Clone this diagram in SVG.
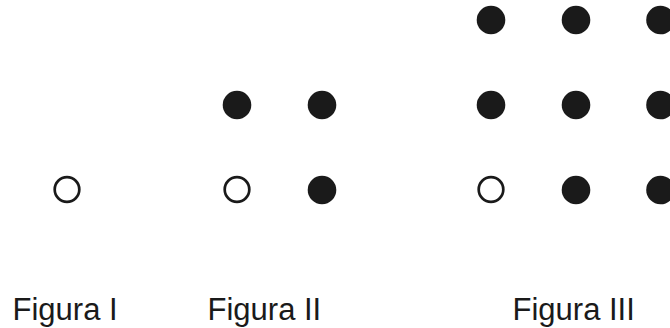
<svg xmlns="http://www.w3.org/2000/svg" width="670" height="328" viewBox="0 0 670 328">
<style>
.f{fill:#1a1a1a}
.o{fill:#fff;stroke:#1a1a1a;stroke-width:2.7}
.t{font-family:"Liberation Sans",Arial,sans-serif;font-size:31px;fill:#1a1a1a}
</style>
<defs>
<circle id="dot" r="14.3"/>
</defs>
<rect width="670" height="328" fill="#fff"/>
<g id="figura1">
<circle class="o" cx="67" cy="189.5" r="12.3"/>
<text class="t" x="12.5" y="319.5">Figura I</text>
</g>
<g id="figura2">
<use href="#dot" class="f" x="237" y="105"/>
<use href="#dot" class="f" x="322" y="105"/>
<circle class="o" cx="237" cy="189.5" r="12.3"/>
<use href="#dot" class="f" x="322" y="190"/>
<text class="t" x="207.5" y="319.5">Figura II</text>
</g>
<g id="figura3">
<use href="#dot" class="f" x="491" y="20"/>
<use href="#dot" class="f" x="576" y="20"/>
<use href="#dot" class="f" x="660.5" y="20"/>
<use href="#dot" class="f" x="491" y="105"/>
<use href="#dot" class="f" x="576" y="105"/>
<use href="#dot" class="f" x="660.5" y="105"/>
<circle class="o" cx="491" cy="189.5" r="12.3"/>
<use href="#dot" class="f" x="576" y="190"/>
<use href="#dot" class="f" x="660.5" y="190"/>
<text class="t" x="512.5" y="319.5">Figura III</text>
</g>
<g id="connectors"/>
</svg>
